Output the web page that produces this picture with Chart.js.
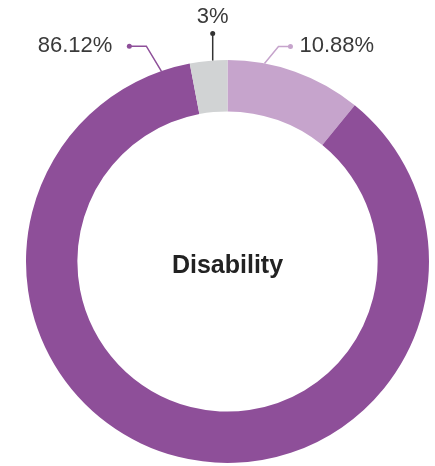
<!DOCTYPE html>
<html>
<head>
<meta charset="utf-8">
<script src="https://cdn.jsdelivr.net/npm/chart.js@4/dist/chart.umd.min.js"></script>
<style>
  html, body { margin: 0; padding: 0; background: #fff; }
  #wrap { width: 435px; height: 466px; }
</style>
</head>
<body>
<div id="wrap"><canvas id="myChart"></canvas></div>
<script>
let categories = ["Category A", "Category B", "Category C"];
let values = [10.88, 86.12, 3];
let labels = ["10.88%", "86.12%", "3%"];
let colors = ["#c6a4cc", "#8e4f99", "#d1d3d4"];
let centerTitle = "Disability";

// leader line placement per slice: where on the arc, elbow and dot offsets
let leaders = [
    { frac: 0.27, elbow: [14, -17], dot: [26, -17], text: [9, 0], align: "left", line: "#c6a4cc" },
    { frac: 0.973, elbow: [-15, -25], dot: [-32, -25], text: [-17, 0], align: "right", line: "#8e4f99" },
    { frac: 0.61, elbow: [0, -27], dot: [0, -27], text: [0, -17], align: "center", line: "#333333" }
];

const labelPlugin = {
    id: "labelPlugin",
    afterDraw(chart) {
        let ctx = chart.ctx;
        let arcs = chart.getDatasetMeta(0).data;
        ctx.save();
        arcs.forEach(function(arc, i) {
            let p = arc.getProps(["x", "y", "startAngle", "endAngle", "outerRadius"], true);
            let L = leaders[i];
            let a = p.startAngle + L.frac * (p.endAngle - p.startAngle);
            let ax = p.x + Math.cos(a) * p.outerRadius;
            let ay = p.y + Math.sin(a) * p.outerRadius;
            ctx.strokeStyle = L.line;
            ctx.fillStyle = L.line;
            ctx.lineWidth = 1.5;
            ctx.beginPath();
            ctx.moveTo(ax, ay);
            ctx.lineTo(ax + L.elbow[0], ay + L.elbow[1]);
            ctx.lineTo(ax + L.dot[0], ay + L.dot[1]);
            ctx.stroke();
            ctx.beginPath();
            ctx.arc(ax + L.dot[0], ay + L.dot[1], 2.5, 0, Math.PI * 2);
            ctx.fill();
            ctx.fillStyle = "#3a3a3a";
            ctx.font = "22px 'Liberation Sans', Arial, sans-serif";
            ctx.textAlign = L.align;
            ctx.textBaseline = "middle";
            ctx.fillText(labels[i], ax + L.dot[0] + L.text[0], ay + L.dot[1] + L.text[1]);
        });
        let c = arcs[0];
        ctx.fillStyle = "#222222";
        ctx.font = "bold 25px 'Liberation Sans', Arial, sans-serif";
        ctx.textAlign = "center";
        ctx.textBaseline = "middle";
        ctx.fillText(centerTitle, c.x, c.y + 5);
        ctx.restore();
    }
};

var ctx = document.getElementById("myChart").getContext("2d");
var myChart = new Chart(ctx, {
    type: 'doughnut',
    data: {
        labels: categories,
        datasets: [
            {
                data: values,
                backgroundColor: colors,
                borderWidth: 0
            }
        ]
    },
    options: {
        responsive: true,
        maintainAspectRatio: false,
        animation: { duration: 0 },
        cutout: '74.5%',
        layout: { padding: { left: 26, right: 6, top: 60, bottom: 3 } },
        plugins: {
            legend: { display: false },
            tooltip: { enabled: false }
        }
    },
    plugins: [labelPlugin]
});
</script>
</body>
</html>
